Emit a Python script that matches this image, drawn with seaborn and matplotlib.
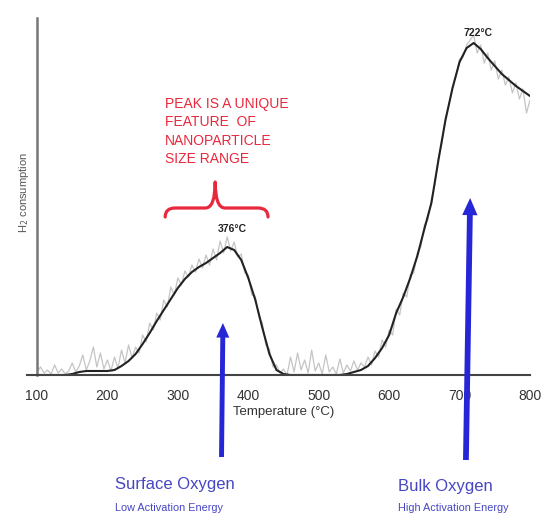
import matplotlib
matplotlib.use("Agg")
import matplotlib.pyplot as plt
import seaborn as sns
import pandas as pd
from matplotlib.path import Path
from matplotlib.patches import PathPatch

# --- data (y in arbitrary H2-consumption units) ---
temp_raw = list(range(100, 805, 5))
h2_raw = [
    3, 8, 2, 5, 1, 10, 2, 6, 1, 4, 12, 3, 9, 20, 5, 14, 28, 8, 22, 6,
    15, 4, 18, 7, 25, 12, 30, 17, 28, 22, 40, 33, 52, 45, 62, 55, 75, 68, 88, 80,
    97, 90, 104, 98, 110, 103, 116, 107, 120, 110, 126, 115, 134, 122, 138, 124, 133, 118, 121, 102,
    100, 80, 79, 58, 52, 30, 26, 8, 10, 2, 6, 0, 18, 3, 22, 5, 15, 2, 25, 4,
    12, 1, 20, 3, 8, 1, 16, 2, 10, 4, 14, 5, 12, 8, 18, 10, 24, 18, 35, 28,
    45, 40, 66, 60, 82, 78, 100, 102, 122, 128, 150, 155, 176, 190, 218, 232, 258, 270, 288, 300,
    316, 318, 330, 335, 340, 322, 330, 312, 322, 305, 314, 296, 305, 290, 298, 282, 292, 276, 286, 262,
    275,
]

temp_fit = list(range(100, 810, 10))
h2_fit = [
    0, 0, 0, 0, 0, 1, 3, 4, 4, 4,
    4, 5, 9, 14, 21, 31, 42, 54, 65, 76,
    87, 96, 103, 108, 112, 117, 122, 128, 125, 115,
    97, 75, 47, 21, 5, 1, 0, 0, 0, 0,
    0, 0, 0, 0, 1, 3, 5, 9, 17, 27,
    40, 62, 78, 97, 119, 146, 172, 215, 255, 287,
    313, 327, 332, 326, 317, 309, 301, 295, 289, 284,
    279,
]

peak_temps = [377, 726]
peak_heights = [146, 342]
peak_labels = ["376°C", "722°C"]

red = "#e8283c"
blue = "#2626d6"
text_blue = "#4646c4"

df_raw = pd.DataFrame({"temp": temp_raw, "h2": h2_raw})
df_fit = pd.DataFrame({"temp": temp_fit, "h2": h2_fit})

sns.set_style("white")
plt.rcParams["font.family"] = ["Liberation Sans", "DejaVu Sans"]

fig = plt.figure(figsize=(5.41, 5.15), dpi=100)
ax = fig.add_axes([37 / 541, 1 - 375 / 515, 493 / 541, 357 / 515])

sns.lineplot(data=df_raw, x="temp", y="h2", ax=ax, color="#c4c4c4", lw=0.9)
sns.lineplot(data=df_fit, x="temp", y="h2", ax=ax, color="#222222", lw=1.5)

ax.set_xlim(100, 800)
ax.set_ylim(0, 357)
ax.set_xticks(range(100, 900, 100))
ax.set_xticks(range(150, 800, 100), minor=True)
ax.set_yticks([])
ax.set_xlabel("Temperature (°C)", fontsize=9.5, color="#333333", labelpad=2)
ax.set_ylabel("")
for side in ["top", "right"]:
    ax.spines[side].set_visible(False)
ax.spines["bottom"].set_color("#444444")
ax.spines["left"].set_color("#777777")
ax.spines["bottom"].set_linewidth(1.5)
ax.spines["left"].set_linewidth(1.8)
ax.spines["bottom"].set_bounds(86, 800)
ax.tick_params(axis="x", which="major", direction="out", length=7, width=1.3,
               color="#444444", labelsize=10, labelcolor="#333333", pad=3)
ax.tick_params(axis="x", which="minor", direction="out", length=5, width=1.3,
               color="#444444")

fig.text(24 / 541, 1 - 193 / 515, "H$_2$ consumption", rotation=90,
         ha="center", va="center", fontsize=8, color="#555555")

# peak labels
for t, h, lab in zip(peak_temps, peak_heights, peak_labels):
    ax.text(t, h, lab, ha="center", va="center", fontsize=7.5,
            fontweight="bold", color="#222222")

# red note and brace
ax.text(282, 278, "PEAK IS A UNIQUE\nFEATURE  OF\nNANOPARTICLE\nSIZE RANGE",
        ha="left", va="top", fontsize=10, color=red, linespacing=1.4)
bx0, bx1, bxm = 282, 428, 353
y_end, y_flat, y_tip, r = 158, 167, 193, 14
verts = [
    (bx0, y_end), (bx0, y_flat), (bx0 + r, y_flat),
    (bxm - r, y_flat), (bxm, y_flat), (bxm, y_tip),
    (bxm, y_flat), (bxm + r, y_flat),
    (bx1 - r, y_flat), (bx1, y_flat), (bx1, y_end),
]
codes = [Path.MOVETO, Path.CURVE3, Path.CURVE3,
         Path.LINETO, Path.CURVE3, Path.CURVE3,
         Path.CURVE3, Path.CURVE3,
         Path.LINETO, Path.CURVE3, Path.CURVE3]
ax.add_patch(PathPatch(Path(verts, codes), fill=False, edgecolor=red,
                       lw=2.3, capstyle="round", joinstyle="round"))

# blue arrows (tip, base) in data units
arrows = [((364, 52), (362, -82), 0.85), ((715, 177), (709, -85), 1.0)]
for tip, base, sc in arrows:
    ax.annotate("", xy=tip, xytext=base, annotation_clip=False,
                arrowprops=dict(arrowstyle=f"simple,head_length={0.95*sc},head_width={0.85*sc},tail_width={0.32*sc}",
                                color=blue, mutation_scale=13, shrinkA=0, shrinkB=0, lw=0))

fig.text(115 / 541, 1 - 484 / 515, "Surface Oxygen", ha="left", va="center",
         fontsize=12, color=text_blue)
fig.text(115 / 541, 1 - 513 / 515, "Low Activation Energy", ha="left", va="bottom",
         fontsize=7.8, color=text_blue)
fig.text(398 / 541, 1 - 486 / 515, "Bulk Oxygen", ha="left", va="center",
         fontsize=12, color=text_blue)
fig.text(398 / 541, 1 - 513 / 515, "High Activation Energy", ha="left", va="bottom",
         fontsize=7.8, color=text_blue)

fig.savefig("out.png", dpi=100)
